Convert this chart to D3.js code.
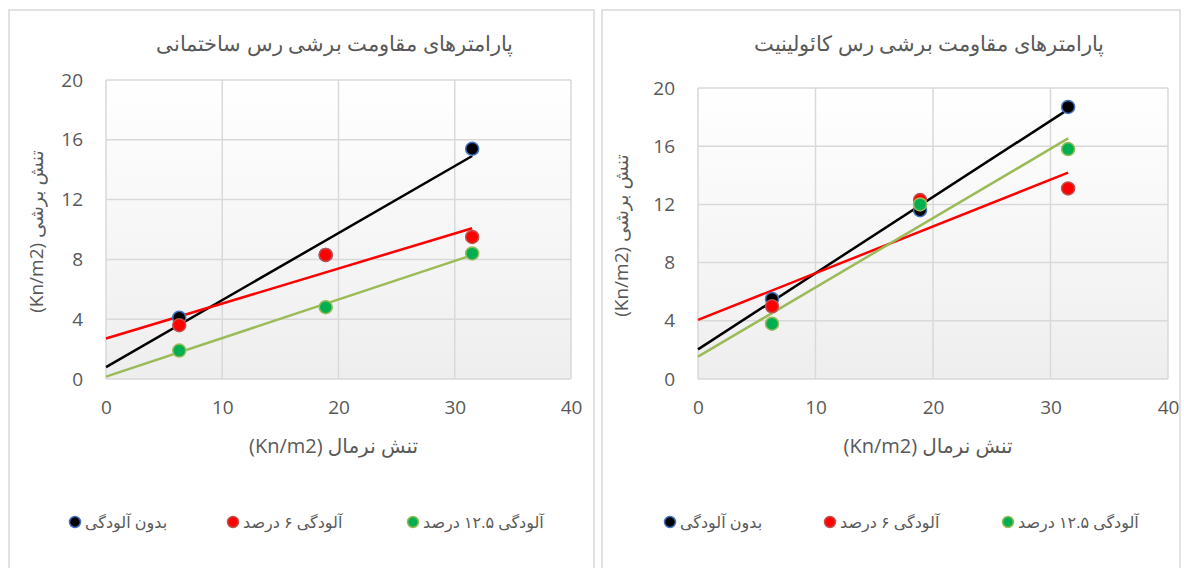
<!DOCTYPE html>
<html>
<head>
<meta charset="utf-8">
<script src="https://cdn.jsdelivr.net/npm/d3@7"></script>
<style>
  body { margin: 0; background: #fff; }
  text { font-family: "Open Sans", "DejaVu Sans", sans-serif; fill: #595959; }
</style>
</head>
<body>
<div id="chart"></div>
<script>
// Data
const normalStress = [6.3, 18.9, 31.5];

const seriesNames = ["بدون آلودگی", "آلودگی ۶ درصد", "آلودگی ۱۲.۵ درصد"];

// ساختمانی
const buildingClean = [4.1, 8.3, 15.4];
const building6 = [3.6, 8.3, 9.5];
const building125 = [1.9, 4.8, 8.4];

// کائولینیت
const kaoliniteClean = [5.5, 11.6, 18.7];
const kaolinite6 = [5.0, 12.3, 13.1];
const kaolinite125 = [3.8, 12.0, 15.8];

const xTicks = [0, 10, 20, 30, 40];
const yTicks = [0, 4, 8, 12, 16, 20];

const fillColors = ["#000000", "#ff0000", "#00b050"];
const edgeColors = ["#4472c4", "#c0504d", "#9bbb59"];
const lineColors = ["#000000", "#ff0000", "#9bbb59"];

const W = 1184, H = 568;

const svg = d3.select("#chart")
  .append("svg")
  .attr("width", W)
  .attr("height", H);

const defs = svg.append("defs");
const grad = defs.append("linearGradient")
  .attr("id", "plotBg")
  .attr("x1", 0).attr("y1", 0).attr("x2", 0).attr("y2", 1);
grad.append("stop").attr("offset", "0%").attr("stop-color", "#ffffff");
grad.append("stop").attr("offset", "100%").attr("stop-color", "#eeeeee");

const panels = [
  {
    title: "پارامترهای مقاومت برشی رس ساختمانی",
    box: [9, 10, 585, 570],
    plot: { left: 106, right: 571, top: 80, bottom: 379 },
    series: [buildingClean, building6, building125],
    yTitleX: 36,
    legendX: [75, 233, 413]
  },
  {
    title: "پارامترهای مقاومت برشی رس کائولینیت",
    box: [602, 10, 578, 570],
    plot: { left: 698, right: 1168, top: 88, bottom: 379 },
    series: [kaoliniteClean, kaolinite6, kaolinite125],
    yTitleX: 621,
    legendX: [670, 830, 1008]
  }
];

// least squares trend line
function fit(xs, ys) {
  const mx = d3.mean(xs), my = d3.mean(ys);
  const slope = d3.sum(xs, (x, i) => (x - mx) * (ys[i] - my)) /
    d3.sum(xs, x => (x - mx) * (x - mx));
  return { slope: slope, intercept: my - slope * mx };
}

panels.forEach(function (p) {
  const g = svg.append("g");

  g.append("rect")
    .attr("x", p.box[0]).attr("y", p.box[1])
    .attr("width", p.box[2]).attr("height", p.box[3])
    .attr("fill", "#fff")
    .attr("stroke", "#d9d9d9")
    .attr("stroke-width", 1.5);

  const x = d3.scaleLinear().domain([0, 40]).range([p.plot.left, p.plot.right]);
  const y = d3.scaleLinear().domain([0, 20]).range([p.plot.bottom, p.plot.top]);

  g.append("rect")
    .attr("x", p.plot.left).attr("y", p.plot.top)
    .attr("width", p.plot.right - p.plot.left)
    .attr("height", p.plot.bottom - p.plot.top)
    .attr("fill", "url(#plotBg)");

  // grid
  g.selectAll(".vgrid")
    .data(xTicks)
    .join("line")
    .attr("x1", d => x(d)).attr("x2", d => x(d))
    .attr("y1", p.plot.top).attr("y2", p.plot.bottom)
    .attr("stroke", "#d9d9d9").attr("stroke-width", 1.5);
  g.selectAll(".hgrid")
    .data(yTicks)
    .join("line")
    .attr("x1", p.plot.left).attr("x2", p.plot.right)
    .attr("y1", d => y(d)).attr("y2", d => y(d))
    .attr("stroke", "#d9d9d9").attr("stroke-width", 1.5);

  // axes (labels only)
  const xAxis = g.append("g")
    .attr("transform", `translate(0, ${p.plot.bottom + 18})`)
    .call(d3.axisBottom(x).tickValues(xTicks).tickSize(0));
  const yAxis = g.append("g")
    .attr("transform", `translate(${p.plot.left - 20}, 0)`)
    .call(d3.axisLeft(y).tickValues(yTicks).tickSize(0));
  [xAxis, yAxis].forEach(a => {
    a.select(".domain").remove();
    a.selectAll("text")
      .style("font-size", "19px")
      .attr("fill", "#595959")
      .style("font-family", "'Open Sans', sans-serif");
  });

  // title
  g.append("text")
    .attr("x", (p.plot.left + p.plot.right) / 2 - 4)
    .attr("y", 51)
    .attr("text-anchor", "middle")
    .attr("direction", "rtl")
    .style("font-size", "21px")
    .style("font-weight", 300)
    .text(p.title);

  // axis titles
  g.append("text")
    .attr("x", (p.plot.left + p.plot.right) / 2 - 5)
    .attr("y", 453)
    .attr("text-anchor", "middle")
    .attr("direction", "rtl")
    .style("font-size", "20px")
    .text("تنش نرمال (Kn/m2)");

  g.append("text")
    .attr("transform", `translate(${p.yTitleX}, ${(p.plot.top + p.plot.bottom) / 2 + 2}) rotate(-90)`)
    .attr("text-anchor", "middle")
    .attr("dy", "0.35em")
    .attr("direction", "rtl")
    .style("font-size", "19px")
    .text("تنش برشی (Kn/m2)");

  // trend lines
  p.series.forEach(function (ys, i) {
    const f = fit(normalStress, ys);
    const xEnd = d3.max(normalStress);
    g.append("line")
      .attr("x1", x(0)).attr("y1", y(f.intercept))
      .attr("x2", x(xEnd)).attr("y2", y(f.intercept + f.slope * xEnd))
      .attr("stroke", lineColors[i])
      .attr("stroke-width", 2.5);
  });

  // points
  p.series.forEach(function (ys, i) {
    g.selectAll(".pt" + i)
      .data(ys)
      .join("circle")
      .attr("cx", (d, j) => x(normalStress[j]))
      .attr("cy", d => y(d))
      .attr("r", 6.5)
      .attr("fill", fillColors[i])
      .attr("stroke", edgeColors[i])
      .attr("stroke-width", 1.5);
  });

  // legend
  const legend = g.selectAll(".legend")
    .data(seriesNames)
    .join("g")
    .attr("transform", (d, i) => `translate(${p.legendX[i]}, 522)`);
  legend.append("circle")
    .attr("r", 5.5)
    .attr("fill", (d, i) => fillColors[i])
    .attr("stroke", (d, i) => edgeColors[i])
    .attr("stroke-width", 1.5);
  legend.append("text")
    .attr("x", 10)
    .attr("dy", "0.35em")
    .attr("text-anchor", "end")
    .attr("direction", "rtl")
    .style("font-size", "16px")
    .text(d => d);
});
</script>
</body>
</html>
